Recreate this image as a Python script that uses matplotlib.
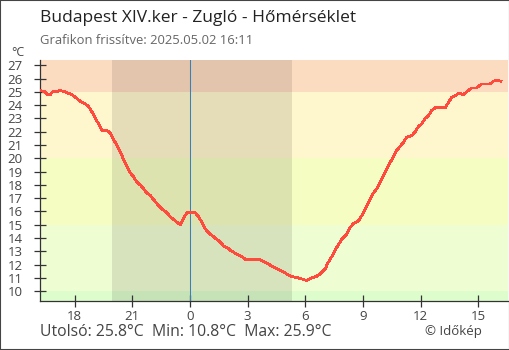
import numpy as np
import matplotlib.pyplot as plt
from matplotlib.patches import Rectangle

plt.rcParams['font.family'] = ['Open Sans', 'DejaVu Sans']

# hours relative to midnight (2025.05.02 00:00) and temperature in °C
hours = [-7.80, -7.52, -7.44, -7.26, -7.16, -7.00, -6.74, -6.48, -6.33, -6.14,
         -5.96, -5.79, -5.62, -5.44, -5.27, -5.10, -4.92, -4.75, -4.58, -4.32,
         -4.14, -3.97, -3.80, -3.62, -3.45, -3.28, -3.10, -2.93, -2.76, -2.58,
         -2.41, -2.24, -2.06, -1.89, -1.72, -1.54, -1.37, -1.20, -1.02, -0.85,
         -0.68, -0.50, -0.33, -0.16, 0.02, 0.28, 0.45, 0.62, 0.80, 0.97,
         1.14, 1.40, 1.58, 1.75, 2.01, 2.18, 2.44, 2.70, 2.88, 3.57,
         3.74, 4.00, 4.26, 4.52, 4.78, 5.04, 5.30, 5.65, 6.08, 6.34,
         6.57, 6.78, 7.04, 7.21, 7.38, 7.64, 7.90, 8.16, 8.34, 8.51,
         8.77, 9.03, 9.20, 9.38, 9.55, 9.72, 9.90, 10.07, 10.24, 10.42,
         10.59, 10.76, 10.94, 11.11, 11.28, 11.54, 11.72, 11.89, 12.06, 12.24,
         12.41, 12.58, 12.76, 13.02, 13.28, 13.45, 13.62, 13.80, 13.97, 14.23,
         14.40, 14.66, 14.92, 15.18, 15.44, 15.62, 15.79, 15.96, 16.18]
temps = [25.1, 25.0, 24.8, 24.8, 25.0, 25.0, 25.1, 25.0, 24.9, 24.8,
         24.6, 24.4, 24.2, 24.1, 23.9, 23.5, 23.0, 22.6, 22.1, 22.1,
         21.9, 21.4, 21.0, 20.5, 19.9, 19.4, 18.9, 18.6, 18.2, 18.0,
         17.7, 17.4, 17.2, 16.9, 16.6, 16.3, 16.1, 15.9, 15.6, 15.4,
         15.2, 15.0, 15.5, 15.9, 15.9, 15.9, 15.6, 15.2, 14.7, 14.4,
         14.2, 13.9, 13.7, 13.4, 13.2, 13.0, 12.8, 12.6, 12.4, 12.4,
         12.3, 12.1, 11.9, 11.7, 11.5, 11.3, 11.1, 11.0, 10.8, 11.0,
         11.1, 11.3, 11.7, 12.2, 12.6, 13.3, 13.9, 14.3, 14.8, 15.1,
         15.3, 15.9, 16.4, 16.9, 17.4, 17.7, 18.2, 18.7, 19.2, 19.7,
         20.1, 20.6, 20.9, 21.2, 21.6, 21.7, 22.0, 22.4, 22.6, 23.0,
         23.2, 23.6, 23.8, 23.8, 23.8, 24.2, 24.6, 24.7, 24.9, 24.8,
         25.0, 25.3, 25.3, 25.6, 25.6, 25.6, 25.8, 25.9, 25.8]

# background temperature bands
band_edges = [0, 10, 15, 20, 25, 40]
band_colors = ['#ddfdcd', '#effdd3', '#f6fdc3', '#fef7cd', '#fcdcc0']

night_start, night_end = -4.05, 5.33
xticks = [-6, -3, 0, 3, 6, 9, 12, 15]
xticklabels = ['18', '21', '0', '3', '6', '9', '12', '15']
yticks = list(range(10, 28))

last, tmin, tmax = 25.8, 10.8, 25.9

fig = plt.figure(figsize=(5.1, 3.5), dpi=100)
ax = fig.add_axes([40/510, 1-300.5/350, 468/510, 240.5/350])

for lo, hi, c in zip(band_edges[:-1], band_edges[1:], band_colors):
    ax.axhspan(lo, hi, color=c, lw=0, zorder=0)
ax.axvspan(night_start, night_end, color='black', alpha=0.1, lw=0, zorder=1)
ax.axvline(0, color='#3a7fb8', lw=0.75, zorder=2)

ax.plot(hours, temps, color='#ff4b3e', lw=1.3, antialiased=False, zorder=3)

ax.set_xlim(-7.8, 16.55)
ax.set_ylim(9.3, 27.4)
ax.set_xticks(xticks)
ax.set_xticklabels(xticklabels)
ax.set_yticks(yticks)
ax.tick_params(axis='y', direction='inout', length=9, width=0.9, color='#333',
               labelsize=9.5, labelcolor='#444', pad=8)
ax.tick_params(axis='x', direction='inout', length=8, width=0.9, color='#333',
               labelsize=9.5, labelcolor='#444', pad=3)
for s in ['top', 'right']:
    ax.spines[s].set_visible(False)
for s in ['left', 'bottom']:
    ax.spines[s].set_color('#333')
    ax.spines[s].set_linewidth(0.9)

fig.text(40/510, 1-18/350, 'Budapest XIV.ker - Zugló - Hőmérséklet',
         fontsize=12.5, color='#222', va='center')
fig.text(40/510, 1-41/350, 'Grafikon frissítve: 2025.05.02 16:11',
         fontsize=9.4, color='#666', va='center')
fig.text(18/510, 1-52/350, '°C', fontsize=9, color='#444', ha='center', va='center')
fig.text(40/510, 1-332/350,
         f'Utolsó: {last}°C  Min: {tmin}°C  Max: {tmax}°C',
         fontsize=11.3, color='#444', va='center')
fig.text(482/510, 1-331/350, '© Időkép', fontsize=9.5, color='#444',
         ha='right', va='center')

fig.patches.append(Rectangle((0, 0), 1, 1, transform=fig.transFigure,
                             fill=False, edgecolor='#444', lw=1.5))

fig.savefig('out.png', dpi=100)
